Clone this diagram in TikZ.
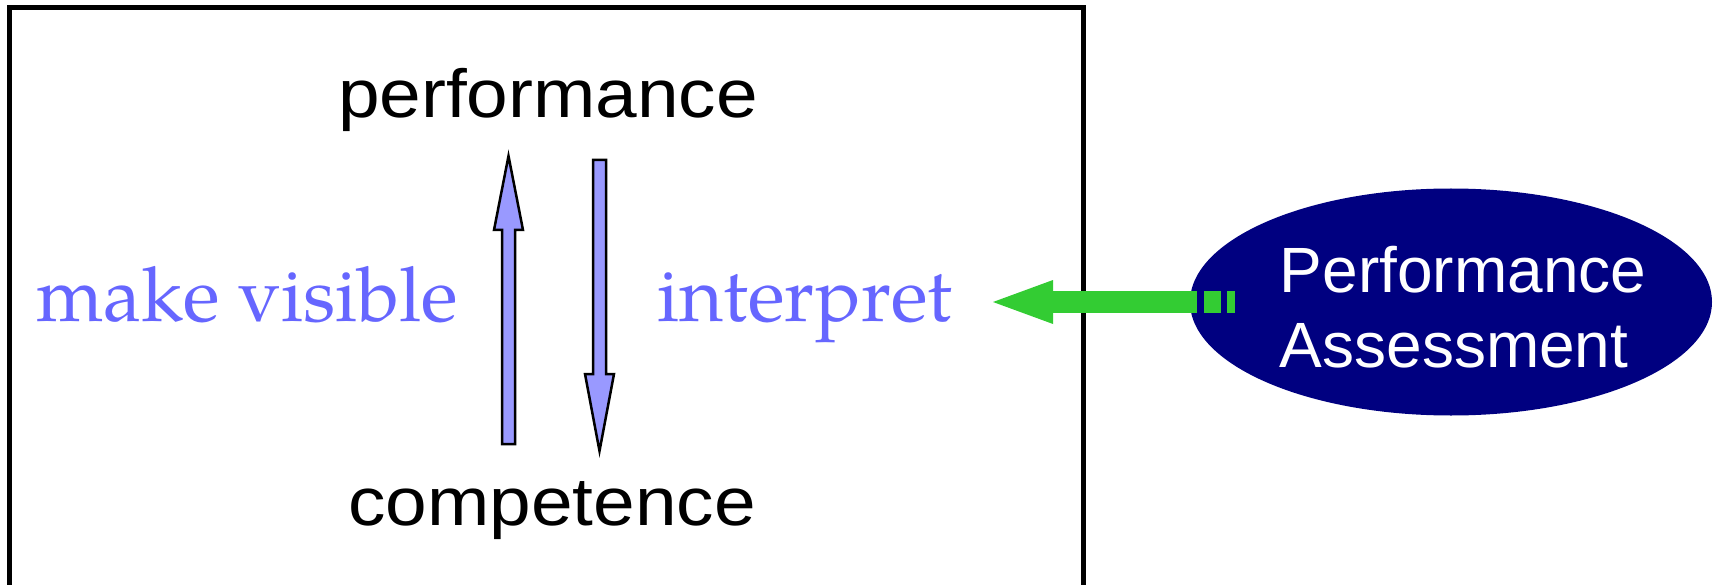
\documentclass[tikz,border=0pt]{standalone}
\usepackage{fontspec}
\setmainfont{Liberation Sans}
\newfontfamily\termfont[FakeStretch=1.1]{Liberation Sans}
\newfontfamily\verbfont{TeX Gyre Pagella}
\usetikzlibrary{arrows.meta,shapes.geometric}
\definecolor{arrowfill}{HTML}{9999FF}
\definecolor{labelblue}{HTML}{6666FF}
\definecolor{assessnavy}{HTML}{000080}
\definecolor{assessgreen}{HTML}{33CC33}

\begin{document}
\begin{tikzpicture}[x=1pt,y=-1pt,
  term/.style={inner sep=0pt, anchor=base, font=\termfont\fontsize{68}{82}\selectfont},
  verb/.style={inner sep=0pt, anchor=base, text=labelblue, font=\verbfont\fontsize{76}{90}\selectfont},
  assesstext/.style={inner sep=0pt, anchor=base, text=white, font=\fontsize{64}{75}\selectfont},
  blockarrow/.style={draw=black, fill=arrowfill, line width=2.5pt, line join=miter},
  greenarrow/.style={draw=assessgreen, line width=22pt, line cap=butt,
    dash pattern=on 8pt off 6pt on 17pt off 7pt on 600pt off 0pt,
    -{Triangle[length=60pt,width=44pt,line width=0pt]}}
]
\useasboundingbox (0,0) rectangle (1720,585);

% frame around the competence/performance cycle
\draw[line width=5pt] (9.5,7.5) rectangle (1083.5,587);

% labels
\node[term] (perf) at (548,118) {performance};
\node[term] (comp) at (552,525) {competence};
\node[verb] (visible) at (247,321) {make visible};
\node[verb] (interp) at (805,321) {interpret};

% block arrows between the two terms
\draw[blockarrow] (502,444) -- (502,230) -- (494,230) -- (508.5,156)
  -- (523,230) -- (515,230) -- (515,444) -- cycle;
\draw[blockarrow] (593,160) -- (593,374) -- (585,374) -- (599.5,451)
  -- (614,374) -- (606,374) -- (606,160) -- cycle;

% assessment ellipse
\node[ellipse, fill=assessnavy, minimum width=522pt, minimum height=227pt,
  inner sep=0pt] (pa) at (1451,302) {};
\node[assesstext] (pa1) at (1463,292) {Performance};
\node[assesstext] (pa2) at (1454,367) {Assessment};

% arrow from the assessment into the frame
\coordinate (target) at (993,302);
\draw[greenarrow] ([xshift=45pt]pa.west) -- (target);
\end{tikzpicture}
\end{document}
